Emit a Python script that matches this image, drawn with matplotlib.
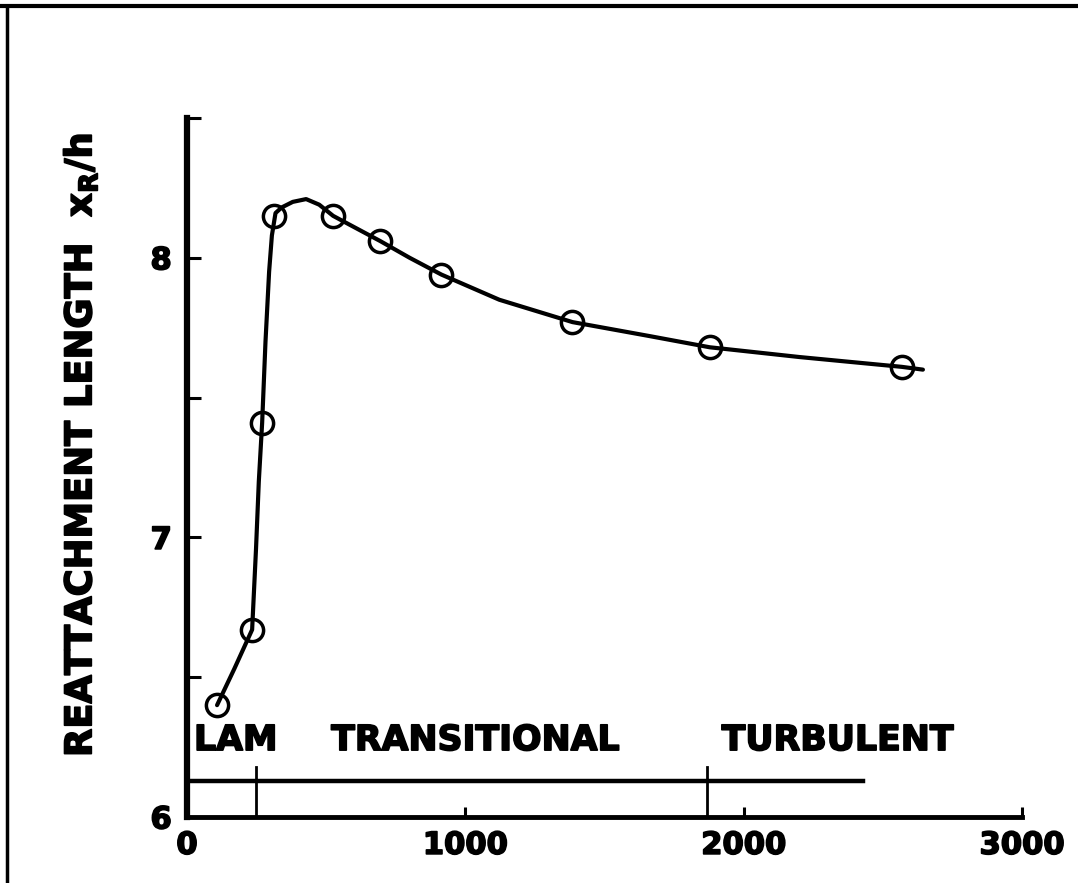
import matplotlib
matplotlib.use("Agg")
import matplotlib.pyplot as plt
from matplotlib.lines import Line2D
import matplotlib.patheffects as pe

plt.rcParams['font.family'] = ['DejaVu Sans']
plt.rcParams['mathtext.fontset'] = 'dejavusans'

# measured data points (Reynolds number, reattachment length x_R/h)
re_points = [108, 234, 270, 313, 525, 694, 914, 1385, 1878, 2568]
xr_points = [6.40, 6.67, 7.41, 8.15, 8.15, 8.06, 7.94, 7.77, 7.68, 7.61]

# hand-drawn fit curve
fit_re = [108, 170, 234, 248, 258, 270, 282, 295, 305, 318, 340, 380, 428, 475,
          525, 600, 694, 800, 914, 1122, 1385, 1662, 1878, 2201, 2568, 2644]
fit_xr = [6.40, 6.53, 6.67, 6.96, 7.20, 7.41, 7.70, 7.95, 8.08, 8.16, 8.18, 8.20, 8.21, 8.19,
          8.15, 8.11, 8.06, 8.00, 7.94, 7.85, 7.77, 7.72, 7.68, 7.645, 7.61, 7.60]

# flow regime annotations
regime_labels = ["LAM", "TRANSITIONAL", "TURBULENT"]
regime_x = [25, 518, 1921]
regime_bounds = [248, 1867]
arrow_end = 2428

x_ticks = [0, 1000, 2000, 3000]
x_ticklabels = ["0", "1000", "2000", "3000"]
y_ticks = [6, 6.5, 7, 7.5, 8, 8.5]
y_ticklabels = ["6", "", "7", "", "8", ""]

heavy = [pe.withStroke(linewidth=1.2, foreground='black')]

fig = plt.figure(figsize=(10.78, 8.83), dpi=100)
ax = fig.add_axes([187/1078, 1-817/883, (1022-187)/1078, (817-118)/883])

ax.plot(fit_re, fit_xr, color='black', lw=3.0, solid_capstyle='round', zorder=2)
ax.plot(re_points, xr_points, linestyle='none', marker='o', markersize=16,
        markerfacecolor='none', markeredgecolor='black', markeredgewidth=2.5, zorder=3)

# regime bar
ax.plot([0, arrow_end], [6.13, 6.13], color='black', lw=3.2, clip_on=False)
for b in regime_bounds:
    ax.plot([b, b], [6.0, 6.18], color='black', lw=2.0)
for lab, xx in zip(regime_labels, regime_x):
    ax.text(xx, 6.275, lab, fontsize=25, fontweight='bold', ha='left', va='center',
            path_effects=heavy)

ax.set_xlim(0, 3000)
ax.set_ylim(6, 8.5)
for s in ['top', 'right']:
    ax.spines[s].set_visible(False)
ax.spines['left'].set_linewidth(4.5)
ax.spines['bottom'].set_linewidth(3.5)

ax.set_xticks(x_ticks)
ax.set_xticklabels(x_ticklabels)
ax.set_yticks(y_ticks)
ax.set_yticklabels(y_ticklabels)
ax.tick_params(axis='y', direction='in', length=10, width=2.2, pad=11, labelsize=22)
ax.tick_params(axis='x', direction='in', length=7, width=2.2, pad=10, labelsize=22)
for t in ax.get_xticklabels() + ax.get_yticklabels():
    t.set_fontweight('bold')
    t.set_path_effects(heavy)

fig.text(80/1078, 1-757/883, r'REATTACHMENT LENGTH  $\mathbf{x_R/h}$', rotation=90,
         fontsize=26.5, fontweight='bold', ha='center', va='bottom', path_effects=heavy)

# scanned page frame
fig.add_artist(Line2D([0, 1], [1-6/883, 1-6/883], transform=fig.transFigure,
                      color='black', lw=3))
fig.add_artist(Line2D([7/1078, 7/1078], [0, 1-6/883], transform=fig.transFigure,
                      color='black', lw=2.5))

fig.savefig('out.png', dpi=100)
